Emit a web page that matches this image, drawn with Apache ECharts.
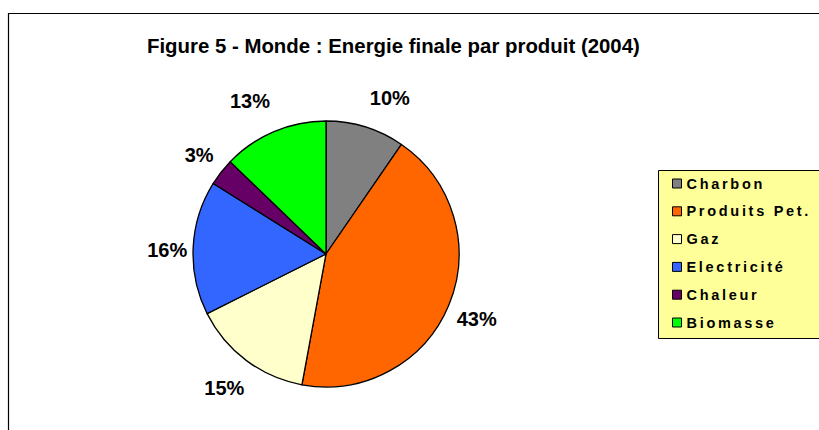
<!DOCTYPE html>
<html>
<head>
<meta charset="utf-8">
<script src="https://cdn.jsdelivr.net/npm/echarts@6/dist/echarts.min.js"></script>
<style>
    html, body { margin: 0; padding: 0; background: #fff; }
    #chart { width: 819px; height: 430px; }
    /* legend text is spread out like the original */
    #chart text[fill="#010101"], #chart text[fill="rgb(1,1,1)"] { letter-spacing: 2.7px; }
</style>
</head>
<body>
<div id="chart"></div>
<script>
const titleText = 'Figure 5 - Monde : Energie finale par produit (2004)'
const categories = ['Charbon', 'Produits Pet.', 'Gaz', 'Electricité', 'Chaleur', 'Biomasse']
const shares = [9.6, 43.3, 14.7, 16.3, 3.3, 12.8]
const colors = ['#808080', '#FF6600', '#FFFFCC', '#3366FF', '#660066', '#00FF00']
// small nudges so the percent labels sit where the original put them
const labelNudge = [[16, -2], [2, 3], [-5, 5], [2, 4], [0, 0], [-13, -5]]

const pieData = categories.map((name, i) => ({ name: name, value: shares[i] }))
const labelData = categories.map((name, i) => ({
    name: name,
    value: shares[i],
    label: { offset: labelNudge[i] },
}))

const chart = echarts.init(document.getElementById('chart'), null, { renderer: 'svg' })

chart.setOption({
    animation: false,
    color: colors,
    title: {
        text: titleText,
        left: 142,
        top: 31,
        textStyle: {
            fontFamily: 'Liberation Sans',
            fontWeight: 'bold',
            fontSize: 20.4,
            color: '#000',
        },
    },
    graphic: [
        {
            type: 'rect',
            z: -10,
            shape: { x: 8.5, y: 13.5, width: 900, height: 500 },
            style: { fill: '#fff', stroke: '#000', lineWidth: 1.2 },
        },
        {
            type: 'rect',
            z: -5,
            shape: { x: 658.5, y: 170.5, width: 200, height: 168 },
            style: { fill: '#FFFF99', stroke: '#000', lineWidth: 1 },
        },
    ],
    legend: {
        orient: 'vertical',
        left: 667,
        top: 171,
        itemWidth: 9,
        itemHeight: 9,
        itemGap: 12.8,
        icon: 'rect',
        selectedMode: false,
        data: categories,
        itemStyle: { borderColor: '#000', borderWidth: 1 },
        textStyle: {
            fontFamily: 'Liberation Sans',
            fontWeight: 'bold',
            fontSize: 14.5,
            lineHeight: 14,
            color: '#010101',
            padding: [0, 0, 0, 0],
        },
    },
    series: [
        {
            type: 'pie',
            center: [326, 254],
            radius: 133,
            startAngle: 90,
            data: pieData,
            itemStyle: { borderColor: '#000', borderWidth: 1.3 },
            label: { show: false },
            labelLine: { show: false },
            emphasis: { disabled: true },
        },
        {
            // transparent ring only used to place the percent labels
            type: 'pie',
            center: [326, 254],
            radius: [144, 172],
            startAngle: 90,
            silent: true,
            data: labelData,
            itemStyle: { color: 'rgba(0,0,0,0)' },
            label: {
                show: true,
                position: 'inside',
                formatter: p => Math.round(p.value) + '%',
                fontFamily: 'Liberation Sans',
                fontWeight: 'bold',
                fontSize: 20,
                color: '#000',
            },
            labelLine: { show: false },
            emphasis: { disabled: true },
        },
    ],
})
</script>
</body>
</html>
